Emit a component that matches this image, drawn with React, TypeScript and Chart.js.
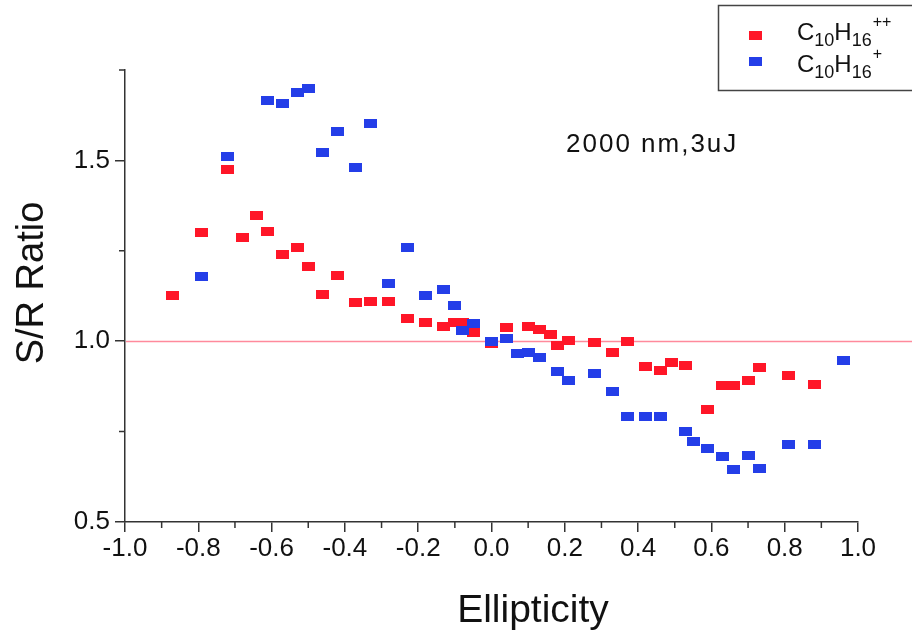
import React, { useEffect, useRef } from "react";
import { Chart, registerables } from "chart.js";

Chart.register(...registerables);

const redX = [-0.87, -0.79, -0.72, -0.68, -0.64, -0.61, -0.57, -0.53, -0.5, -0.46, -0.42, -0.37, -0.33, -0.28, -0.23, -0.18, -0.13, -0.1, -0.08, -0.05, 0.0, 0.04, 0.1, 0.13, 0.16, 0.18, 0.21, 0.28, 0.33, 0.37, 0.42, 0.46, 0.49, 0.53, 0.59, 0.63, 0.66, 0.7, 0.73, 0.81, 0.88];
const redY = [1.127, 1.301, 1.475, 1.287, 1.348, 1.304, 1.24, 1.26, 1.207, 1.13, 1.182, 1.108, 1.11, 1.11, 1.064, 1.052, 1.041, 1.052, 1.052, 1.025, 0.994, 1.039, 1.041, 1.033, 1.019, 0.989, 1.003, 0.997, 0.97, 1.0, 0.931, 0.92, 0.942, 0.934, 0.812, 0.878, 0.878, 0.892, 0.928, 0.906, 0.881];

const blueX = [-0.79, -0.72, -0.61, -0.57, -0.53, -0.5, -0.46, -0.42, -0.37, -0.33, -0.28, -0.23, -0.18, -0.13, -0.1, -0.08, -0.05, 0.0, 0.04, 0.07, 0.1, 0.13, 0.18, 0.21, 0.28, 0.33, 0.37, 0.42, 0.46, 0.53, 0.55, 0.59, 0.63, 0.66, 0.7, 0.73, 0.81, 0.88, 0.96];
const blueY = [1.18, 1.511, 1.666, 1.657, 1.688, 1.699, 1.522, 1.58, 1.481, 1.602, 1.16, 1.26, 1.127, 1.144, 1.099, 1.03, 1.05, 1.0, 1.008, 0.967, 0.97, 0.956, 0.917, 0.89, 0.912, 0.862, 0.793, 0.793, 0.793, 0.749, 0.724, 0.704, 0.68, 0.646, 0.685, 0.649, 0.715, 0.715, 0.948];

const xMinorTicks = [-0.9, -0.7, -0.5, -0.3, -0.1, 0.1, 0.3, 0.5, 0.7, 0.9];
const yMinorTicks = [0.75, 1.25, 1.75];
const refLineValue = 1.0;

const xTitle = "Ellipticity";
const yTitle = "S/R Ratio";
const annotation = "2000 nm,3uJ";
const redName = [
  { t: "C", k: "n" },
  { t: "10", k: "sub" },
  { t: "H", k: "n" },
  { t: "16", k: "sub" },
  { t: "++", k: "sup" },
];
const blueName = [
  { t: "C", k: "n" },
  { t: "10", k: "sub" },
  { t: "H", k: "n" },
  { t: "16", k: "sub" },
  { t: "+", k: "sup" },
];

const RED = "rgb(255,22,40)";
const BLUE = "rgb(36,62,232)";
const FONT = '"Liberation Sans", Arial, sans-serif';

function makeMarker(color: string) {
  const c = document.createElement("canvas");
  c.width = 13;
  c.height = 9;
  const g = c.getContext("2d")!;
  g.fillStyle = color;
  g.fillRect(0, 0, 13, 9);
  return c;
}

function drawFormula(ctx: CanvasRenderingContext2D, parts: { t: string; k: string }[], x: number, y: number) {
  let cx = x;
  for (const p of parts) {
    if (p.k === "n") {
      ctx.font = `24px ${FONT}`;
      ctx.fillText(p.t, cx, y);
    } else if (p.k === "sub") {
      ctx.font = `18px ${FONT}`;
      ctx.fillText(p.t, cx, y + 6);
    } else {
      ctx.font = `16px ${FONT}`;
      ctx.fillText(p.t, cx + 1, y - 13);
    }
    cx += ctx.measureText(p.t).width;
  }
}

export default function App() {
  const ref = useRef<HTMLCanvasElement | null>(null);

  useEffect(() => {
    if (!ref.current) return;
    const redMarker = makeMarker(RED);
    const blueMarker = makeMarker(BLUE);

    const decor = {
      id: "decor",
      beforeDatasetsDraw(chart: any) {
        const { ctx, chartArea, scales } = chart;
        const y = Math.round(scales.y.getPixelForValue(refLineValue)) + 0.5;
        ctx.save();
        ctx.strokeStyle = "#ff8a9c";
        ctx.lineWidth = 1.5;
        ctx.beginPath();
        ctx.moveTo(chartArea.left + 1, y);
        ctx.lineTo(chart.width, y);
        ctx.stroke();
        ctx.restore();
      },
      afterDraw(chart: any) {
        const { ctx, chartArea, scales } = chart;
        ctx.save();
        // minor ticks
        ctx.strokeStyle = "#333";
        ctx.lineWidth = 1.5;
        ctx.beginPath();
        for (const v of xMinorTicks) {
          const px = scales.x.getPixelForValue(v);
          ctx.moveTo(px, chartArea.bottom);
          ctx.lineTo(px, chartArea.bottom + 6);
        }
        for (const v of yMinorTicks) {
          const py = scales.y.getPixelForValue(v);
          ctx.moveTo(chartArea.left, py);
          ctx.lineTo(chartArea.left - 6, py);
        }
        ctx.stroke();

        // titles
        ctx.fillStyle = "#111";
        ctx.font = `39px ${FONT}`;
        ctx.textAlign = "center";
        ctx.textBaseline = "alphabetic";
        ctx.fillText(xTitle, 533, 622);
        ctx.save();
        ctx.translate(43, 283);
        ctx.rotate(-Math.PI / 2);
        ctx.font = `38px ${FONT}`;
        ctx.fillText(yTitle, 0, 0);
        ctx.restore();

        // annotation
        ctx.textAlign = "left";
        ctx.font = `26px ${FONT}`;
        (ctx as any).letterSpacing = "2px";
        ctx.fillText(annotation, 566, 152);
        (ctx as any).letterSpacing = "0px";

        // legend
        ctx.strokeStyle = "#444";
        ctx.lineWidth = 1.5;
        ctx.strokeRect(718.5, 5.5, 200, 85);
        ctx.drawImage(redMarker, 749, 31);
        ctx.drawImage(blueMarker, 749, 57);
        ctx.fillStyle = "#111";
        drawFormula(ctx, redName, 797, 40);
        drawFormula(ctx, blueName, 797, 72);
        ctx.restore();
      },
    };

    const chart = new Chart(ref.current, {
      type: "scatter",
      data: {
        datasets: [
          {
            label: "C10H16+",
            data: blueX.map((x, i) => ({ x, y: blueY[i] })),
            pointStyle: blueMarker as any,
            backgroundColor: BLUE,
            borderColor: BLUE,
          },
          {
            label: "C10H16++",
            data: redX.map((x, i) => ({ x, y: redY[i] })),
            pointStyle: redMarker as any,
            backgroundColor: RED,
            borderColor: RED,
          },
        ],
      },
      options: {
        animation: false,
        responsive: false,
        layout: { padding: { left: 0, top: 70, right: 54, bottom: 0 } },
        plugins: {
          legend: { display: false },
          tooltip: { enabled: false },
        },
        scales: {
          x: {
            type: "linear",
            min: -1,
            max: 1,
            afterFit: (s: any) => {
              s.height = 113;
            },
            ticks: {
              stepSize: 0.2,
              font: { size: 26, family: FONT },
              color: "#111",
              padding: 1,
              callback: (v: any) => (Math.abs(Number(v)) < 1e-9 ? "0.0" : Number(v).toFixed(1)),
            },
            grid: { drawOnChartArea: false, tickLength: 10, color: "#333", lineWidth: 1.5 },
            border: { display: true, color: "#333", width: 1.5 },
          },
          y: {
            type: "linear",
            min: 0.5,
            max: 1.75,
            afterFit: (s: any) => {
              s.width = 125;
            },
            ticks: {
              stepSize: 0.5,
              includeBounds: false,
              font: { size: 26, family: FONT },
              color: "#111",
              padding: 5,
              callback: (v: any) => Number(v).toFixed(1),
            },
            grid: { drawOnChartArea: false, tickLength: 10, color: "#333", lineWidth: 1.5 },
            border: { display: true, color: "#333", width: 1.5 },
          },
        },
      } as any,
      plugins: [decor],
    });
    return () => chart.destroy();
  }, []);

  return (
    <div style={{ position: "fixed", left: 0, top: 0, width: 912, height: 635, background: "#fff" }}>
      <canvas ref={ref} width={912} height={635} style={{ display: "block" }} />
    </div>
  );
}
